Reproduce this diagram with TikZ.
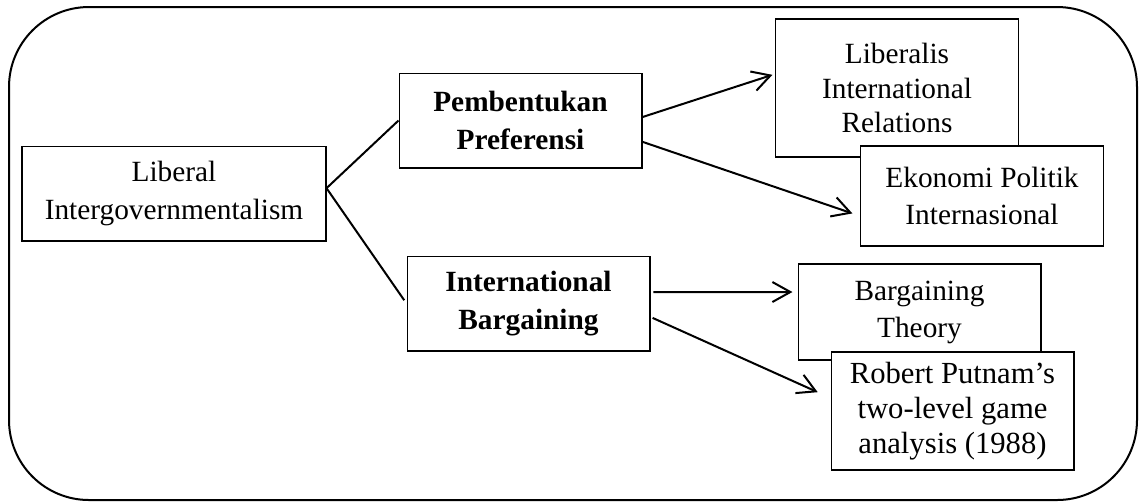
\documentclass[tikz,border=0pt]{standalone}
\usepackage{fontspec}
\setmainfont{Liberation Serif}
\usepackage{tikz}
\usetikzlibrary{arrows.meta,positioning}

\begin{document}
\begin{tikzpicture}[
    x=0.375pt, y=-0.375pt,
    box/.style={rectangle, draw, fill=white, line width=0.4pt, align=center, inner sep=0pt, minimum width=91.1pt, minimum height=35.6pt, font=\fontsize{11}{13.9}\selectfont},
    link/.style={line width=0.75pt},
    flow/.style={line width=0.75pt, -{Straight Barb[length=6.75pt, width=7.5pt, line width=0.75pt]}}
]
\useasboundingbox (0,0) rectangle (1139,502);

% Frame
\draw[line width=0.75pt, rounded corners=30pt] (9,7) rectangle (1137,500);

% Main concept
\node[box, minimum width=114pt] (liberal) at (174,193.5) {Liberal\\Intergovernmentalism};

% Two stages
\node[box, font=\fontsize{11}{14.2}\selectfont\bfseries] (pembentukan) at (520.5,120.5) {Pembentukan\\Preferensi};
\node[box, font=\fontsize{11}{14.2}\selectfont\bfseries] (bargaining) at (528.5,303.5) {International\\Bargaining};

% Sources
\node[box, minimum height=51.75pt, font=\fontsize{11}{12.8}\selectfont] (liberalis) at (897,88) {Liberalis\\International\\Relations};
\node[box, minimum height=37.5pt] (ekonomi) at (982,196) {Ekonomi Politik\\Internasional};
\node[box, minimum height=36pt] (theory) at (919.5,312) {Bargaining\\Theory};
\node[box, minimum height=44.25pt, font=\fontsize{11.5}{13.2}\selectfont] (putnam) at (952.5,411) {Robert Putnam’s\\two-level game\\analysis (1988)};

% Branches
\draw[link] ([yshift=2pt]liberal.east) -- (pembentukan.west);
\draw[link, shorten >=1.5pt] ([yshift=2pt]liberal.east) -- (bargaining.west);

% Arrows
\draw[flow, shorten >=1pt] ([yshift=1.3pt]pembentukan.east) -- ([yshift=5.25pt]liberalis.west);
\draw[flow, shorten >=3pt] ([yshift=-8pt]pembentukan.east) -- ([yshift=-7.5pt]ekonomi.west);
\draw[flow, shorten >=1.9pt] ([xshift=1.1pt,yshift=4.3pt]bargaining.east) -- ([yshift=7.5pt]theory.west);
\draw[flow, shorten >=5.25pt] ([xshift=0.8pt,yshift=-5.4pt]bargaining.east) -- ([yshift=4.9pt]putnam.west);

\end{tikzpicture}
\end{document}
